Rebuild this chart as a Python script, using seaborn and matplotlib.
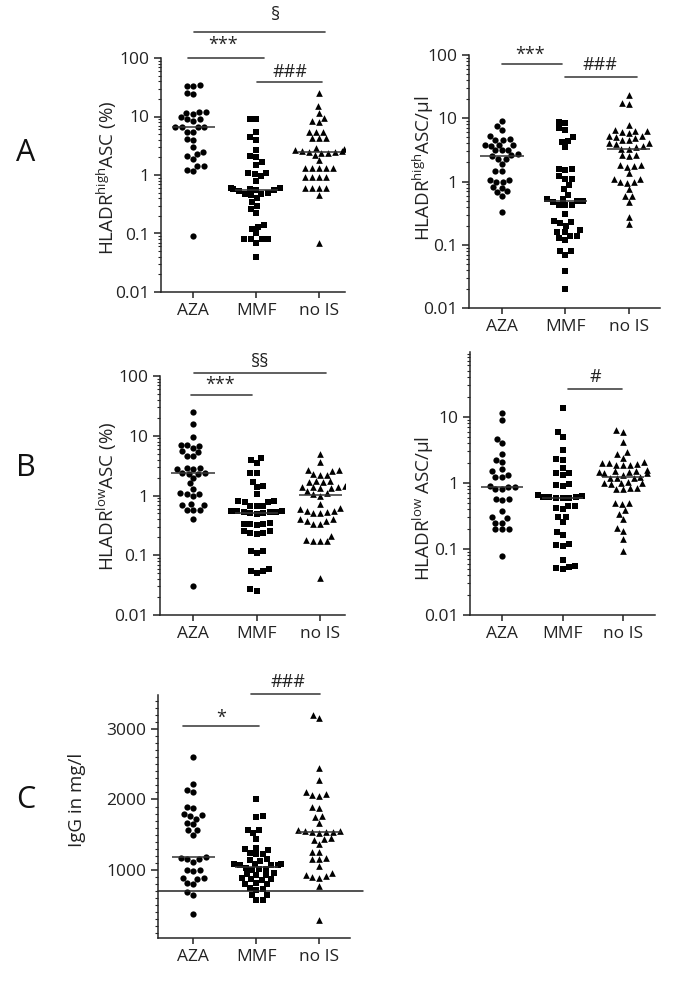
import numpy as np
import pandas as pd
import matplotlib
matplotlib.use("Agg")
import matplotlib.pyplot as plt
import seaborn as sns
from matplotlib.ticker import MultipleLocator, LogLocator, NullFormatter

groups = ["AZA", "MMF", "no IS"]
markers = ["o", "s", "^"]

# A: HLADR-high ASC (%)
A_pct_AZA = [34, 33, 33, 25, 24, 12, 12, 11.5, 11, 10, 9, 9, 8.5, 6.7, 6.7, 6.5, 6.5, 5.5, 5.5,
             4.2, 4.0, 3.0, 2.5, 2.3, 2.1, 1.9, 1.4, 1.4, 1.2, 1.15, 0.09]
A_pct_MMF = [9, 9, 5.5, 4.5, 4.0, 2.7, 2.1, 2.0, 1.7, 1.5, 1.1, 1.1, 1.05, 0.95, 0.8, 0.6, 0.6,
             0.58, 0.58, 0.55, 0.55, 0.53, 0.5, 0.48, 0.48, 0.45, 0.4, 0.35, 0.3, 0.26, 0.22,
             0.14, 0.13, 0.12, 0.1, 0.08, 0.08, 0.08, 0.08, 0.07, 0.04]
A_pct_noIS = [25, 15, 11.6, 9.5, 8.5, 8, 5.4, 5.4, 5.4, 4.3, 4.3, 4.3, 2.9, 2.8, 2.7, 2.6, 2.6,
              2.5, 2.5, 2.4, 2.4, 2.2, 1.8, 1.3, 1.3, 1.3, 1.3, 1.3, 0.92, 0.92, 0.92, 0.92,
              0.6, 0.6, 0.6, 0.6, 0.45, 0.07]

# A: HLADR-high ASC/ul
A_ul_AZA = [9.1, 7.5, 6.6, 5.2, 4.7, 4.5, 4.5, 3.8, 3.8, 3.8, 3.7, 3.2, 3.1, 3.1, 2.7, 2.6, 2.5,
            2.3, 2.3, 1.9, 1.45, 1.45, 1.05, 1.05, 1.0, 1.0, 0.82, 0.8, 0.7, 0.68, 0.6, 0.33]
A_ul_MMF = [8.8, 8.4, 7.0, 6.5, 5.0, 4.3, 4.2, 3.5, 1.55, 1.55, 1.5, 1.2, 1.1, 1.1, 0.88, 0.75,
            0.62, 0.53, 0.52, 0.5, 0.5, 0.48, 0.43, 0.43, 0.43, 0.31, 0.24, 0.23, 0.22, 0.2,
            0.17, 0.16, 0.16, 0.14, 0.14, 0.13, 0.12, 0.08, 0.08, 0.07, 0.038, 0.02]
A_ul_noIS = [23, 17.5, 17, 7.8, 6.5, 6.3, 6.2, 6.0, 5.8, 5.3, 5.3, 5.0, 4.9, 4.5, 4.5, 4.0, 4.0,
             3.9, 3.6, 3.5, 3.3, 3.3, 2.6, 2.6, 2.5, 1.8, 1.8, 1.75, 1.7, 1.35, 1.1, 1.1, 1.0,
             0.98, 0.95, 0.75, 0.6, 0.58, 0.47, 0.27, 0.21]

# B: HLADR-low ASC (%)
B_pct_AZA = [25, 16, 9.5, 7, 7, 6.8, 6.3, 5.5, 5.3, 4.6, 4.5, 2.9, 2.9, 2.8, 2.8, 2.4, 2.4, 2.3,
             2.3, 1.95, 1.6, 1.3, 1.1, 1.05, 1.05, 1.0, 0.72, 0.7, 0.7, 0.58, 0.58, 0.57, 0.4, 0.03]
B_pct_MMF = [4.2, 3.9, 3.5, 2.4, 2.4, 1.7, 1.45, 1.4, 1.07, 0.8, 0.8, 0.78, 0.78, 0.67, 0.66,
             0.66, 0.56, 0.55, 0.54, 0.53, 0.52, 0.52, 0.5, 0.5, 0.49, 0.34, 0.33, 0.33, 0.33,
             0.32, 0.25, 0.25, 0.24, 0.24, 0.23, 0.12, 0.12, 0.11, 0.058, 0.055, 0.055, 0.05,
             0.027, 0.025]
B_pct_noIS = [5.0, 3.7, 2.7, 2.7, 2.6, 2.3, 2.2, 2.2, 1.75, 1.75, 1.7, 1.7, 1.45, 1.4, 1.4, 1.38,
              1.35, 1.35, 1.2, 1.1, 1.05, 1.0, 0.72, 0.62, 0.6, 0.55, 0.55, 0.52, 0.5, 0.5, 0.4,
              0.4, 0.38, 0.38, 0.33, 0.33, 0.21, 0.18, 0.17, 0.17, 0.17, 0.042]

# B: HLADR-low ASC/ul
B_ul_AZA = [11.5, 9.1, 4.6, 4.0, 2.7, 2.2, 2.1, 1.6, 1.5, 1.3, 1.25, 1.25, 0.9, 0.88, 0.88, 0.82,
            0.82, 0.57, 0.57, 0.56, 0.38, 0.3, 0.29, 0.25, 0.25, 0.2, 0.2, 0.2, 0.078]
B_ul_MMF = [13.7, 5.9, 5.0, 3.2, 2.3, 2.2, 1.7, 1.4, 1.4, 1.3, 0.95, 0.92, 0.9, 0.65, 0.63, 0.62,
            0.61, 0.61, 0.6, 0.6, 0.59, 0.45, 0.44, 0.42, 0.4, 0.31, 0.3, 0.26, 0.18, 0.16,
            0.12, 0.115, 0.11, 0.068, 0.055, 0.053, 0.052, 0.05]
B_ul_noIS = [6.3, 6.0, 4.2, 2.9, 2.7, 2.4, 2.1, 2.0, 2.0, 1.95, 1.9, 1.9, 1.85, 1.55, 1.5, 1.5,
             1.45, 1.45, 1.4, 1.4, 1.3, 1.25, 1.2, 1.2, 1.2, 1.05, 1.0, 1.0, 0.98, 0.95, 0.84,
             0.83, 0.82, 0.8, 0.5, 0.5, 0.48, 0.39, 0.34, 0.28, 0.21, 0.19, 0.14, 0.093]

# C: IgG in mg/l
C_AZA = [2600, 2220, 2140, 2100, 1900, 1880, 1800, 1780, 1770, 1730, 1660, 1650, 1570, 1560, 1500,
         1180, 1170, 1160, 1160, 1120, 1000, 1000, 990, 880, 880, 870, 810, 800, 690, 650, 380]
C_MMF = [2000, 1760, 1750, 1570, 1560, 1520, 1440, 1310, 1300, 1290, 1240, 1230, 1220, 1150, 1140,
         1130, 1090, 1085, 1080, 1075, 1070, 1065, 1030, 1020, 1010, 1000, 950, 940, 930, 930,
         880, 870, 870, 860, 810, 800, 800, 740, 730, 720, 650, 640, 580, 570]
C_noIS = [3200, 3150, 2450, 2280, 2100, 2080, 2060, 2050, 1900, 1880, 1760, 1750, 1670, 1560, 1555,
          1550, 1545, 1540, 1535, 1530, 1450, 1440, 1430, 1370, 1260, 1250, 1170, 1160, 1150,
          1050, 950, 930, 910, 900, 880, 770, 290]
IGG_LOWER = 700

sns.set_style("ticks")
plt.rcParams["font.family"] = ["Open Sans", "DejaVu Sans"]
plt.rcParams["mathtext.fontset"] = "custom"
plt.rcParams["mathtext.rm"] = "Open Sans"
plt.rcParams["mathtext.it"] = "Open Sans"
plt.rcParams["axes.linewidth"] = 1.1

W, H = 685, 983
fig = plt.figure(figsize=(W / 100, H / 100), dpi=100)


def add_ax(l, t, r, b):
    return fig.add_axes([l / W, 1 - b / H, (r - l) / W, (b - t) / H])


def dot_panel(ax, series, log, ylim, xlim, ylabel, label_x, label_y):
    if log:
        ax.set_yscale("log")
    ax.set_ylim(*ylim)
    for i, (g, vals, m) in enumerate(zip(groups, series, markers)):
        d = pd.DataFrame({"group": g, "value": vals})
        sns.swarmplot(data=d, x="group", y="value", order=groups, marker=m,
                      color="black", size=4.5 if m != "^" else 4.8, ax=ax, zorder=2)
        ax.hlines(np.median(vals), i - 0.34, i + 0.34, color="#333333", lw=1.1, zorder=3)
    ax.set_xlim(*xlim)
    ax.set_xlabel("")
    ax.set_ylabel(ylabel, fontsize=13.5, color="#222222")
    ax.yaxis.set_label_coords(label_x, label_y)
    ax.yaxis.label.set_va("center")
    sns.despine(ax=ax)
    ax.tick_params(axis="x", length=4, width=1.1, labelsize=12.5, colors="#222222", pad=4)
    ax.tick_params(axis="y", which="major", length=5, width=1.1, labelsize=12.5,
                   colors="#222222")
    ax.tick_params(axis="y", which="minor", length=2.5, width=0.8)
    if log:
        ax.yaxis.set_minor_locator(LogLocator(base=10, subs=np.arange(2, 10)))
        ax.yaxis.set_minor_formatter(NullFormatter())


def bracket(ax, x0, x1, y, txt, tx, ty, size=13):
    ax.plot([x0, x1], [y, y], color="#444444", lw=1.2, clip_on=False)
    ax.text(tx, ty, txt, ha="center", va="center", fontsize=size, color="#222222",
            clip_on=False)


log_ticks = [0.01, 0.1, 1, 10, 100]
log_labels = ["0.01", "0.1", "1", "10", "100"]

# A left
ax1 = add_ax(161, 58, 345, 292)
dot_panel(ax1, [A_pct_AZA, A_pct_MMF, A_pct_noIS], True, (0.01, 100), (-0.51, 2.41),
          r"HLADR$^{\mathrm{high}}$ASC (%)", (107 - 161) / 184, (292 - 178) / 234)
ax1.set_yticks(log_ticks, log_labels)
bracket(ax1, 0.02, 2.1, 278, "§", 1.3, 540)
bracket(ax1, -0.08, 1.13, 100, "***", 0.48, 165)
bracket(ax1, 1.02, 2.05, 38.8, "###", 1.54, 58)

# A right
ax2 = add_ax(469, 55, 660, 308)
dot_panel(ax2, [A_ul_AZA, A_ul_MMF, A_ul_noIS], True, (0.01, 100), (-0.52, 2.49),
          r"HLADR$^{\mathrm{high}}$ASC/µl", (423 - 469) / 191, (308 - 168) / 253)
ax2.set_yticks(log_ticks, log_labels)
bracket(ax2, 0.0, 0.94, 72, "***", 0.44, 100)
bracket(ax2, 1.0, 2.13, 45, "###", 1.54, 70)

# B left
ax3 = add_ax(160, 376, 345, 615)
dot_panel(ax3, [B_pct_AZA, B_pct_MMF, B_pct_noIS], True, (0.01, 100), (-0.52, 2.39),
          r"HLADR$^{\mathrm{low}}$ASC (%)", (107 - 160) / 185, (615 - 496) / 239)
ax3.set_yticks(log_ticks, log_labels)
bracket(ax3, 0.02, 2.09, 112, "§§", 1.06, 170)
bracket(ax3, -0.03, 0.92, 48, "***", 0.43, 71)

# B right
ax4 = add_ax(470, 352, 655, 615)
dot_panel(ax4, [B_ul_AZA, B_ul_MMF, B_ul_noIS], True, (0.01, 96), (-0.53, 2.53),
          r"HLADR$^{\mathrm{low}}$ ASC/µl", (423 - 470) / 185, (615 - 508) / 263)
ax4.set_yticks(log_ticks[:4], log_labels[:4])
bracket(ax4, 1.09, 1.98, 26.5, "#", 1.54, 40)

# C
ax5 = add_ax(158, 695, 350, 938)
dot_panel(ax5, [C_AZA, C_MMF, C_noIS], False, (35, 3482), (-0.56, 2.49),
          "IgG in mg/l", (77 - 158) / 192, (938 - 800) / 243)
ax5.set_yticks([1000, 2000, 3000], ["1000", "2000", "3000"])
ax5.yaxis.set_minor_locator(MultipleLocator(100))
ax5.plot([-0.56, 2.7], [IGG_LOWER, IGG_LOWER], color="#222222", lw=1.1, clip_on=False)
bracket(ax5, 0.92, 2.02, 3496, "###", 1.51, 3667)
bracket(ax5, -0.17, 1.05, 3043, "*", 0.44, 3160)

for letter, y in [("A", 153), ("B", 468), ("C", 800)]:
    fig.text(26 / W, 1 - y / H, letter, fontsize=22, ha="center", va="center", color="#111111")

fig.savefig("out.png", dpi=100)
